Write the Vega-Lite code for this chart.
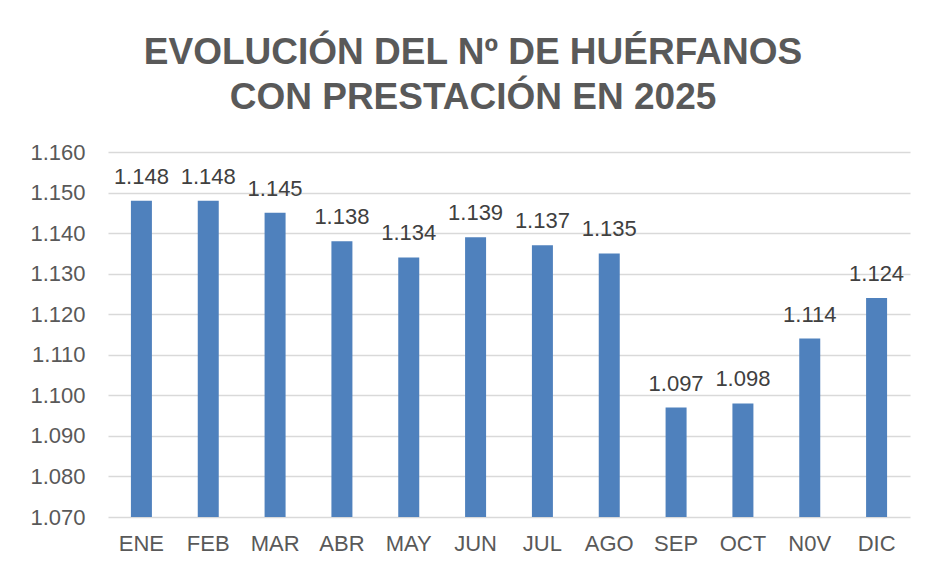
{
  "$schema": "https://vega.github.io/schema/vega-lite/v6.json",
  "autosize": "none",
  "width": 802,
  "height": 365,
  "padding": {"left": 108, "top": 152, "right": 17, "bottom": 49},
  "background": "white",
  "config": {
    "locale": {"number": {"decimal": ",", "thousands": ".", "grouping": [3], "currency": ["", " €"]}},
    "font": "Liberation Sans",
    "view": {"stroke": null}
  },
  "title": {
    "text": ["EVOLUCIÓN DEL Nº DE HUÉRFANOS", "CON PRESTACIÓN EN 2025"],
    "font": "Liberation Sans",
    "fontSize": 37,
    "fontWeight": "bold",
    "color": "#595959",
    "anchor": "middle",
    "lineHeight": 45,
    "offset": 24,
    "dx": -36
  },
  "data": {
    "values": [
      {"mes": "ENE", "valor": 1148},
      {"mes": "FEB", "valor": 1148},
      {"mes": "MAR", "valor": 1145},
      {"mes": "ABR", "valor": 1138},
      {"mes": "MAY", "valor": 1134},
      {"mes": "JUN", "valor": 1139},
      {"mes": "JUL", "valor": 1137},
      {"mes": "AGO", "valor": 1135},
      {"mes": "SEP", "valor": 1097},
      {"mes": "OCT", "valor": 1098},
      {"mes": "N0V", "valor": 1114},
      {"mes": "DIC", "valor": 1124}
    ]
  },
  "encoding": {
    "x": {
      "field": "mes",
      "type": "nominal",
      "sort": null,
      "scale": {"paddingInner": 0, "paddingOuter": 0},
      "axis": {
        "title": null,
        "labelAngle": 0,
        "labelFont": "Liberation Sans",
        "labelFontSize": 22,
        "labelColor": "#595959",
        "labelPadding": 16,
        "ticks": false,
        "domain": false
      }
    },
    "y": {
      "field": "valor",
      "type": "quantitative",
      "scale": {"domain": [1070, 1160], "zero": false, "nice": false},
      "axis": {
        "title": null,
        "values": [1070, 1080, 1090, 1100, 1110, 1120, 1130, 1140, 1150, 1160],
        "format": ",d",
        "labelFont": "Liberation Sans",
        "labelFontSize": 22,
        "labelColor": "#595959",
        "labelPadding": 23,
        "ticks": false,
        "domain": false,
        "gridColor": "#d9d9d9",
        "gridWidth": 1.5
      }
    }
  },
  "layer": [
    {
      "mark": {"type": "bar", "size": 21, "color": "#4F81BD", "clip": true}
    },
    {
      "mark": {"type": "text", "baseline": "bottom", "dy": -12, "fontSize": 22, "color": "#404040", "font": "Liberation Sans"},
      "encoding": {
        "text": {"field": "valor", "type": "quantitative", "format": ",d"}
      }
    }
  ]
}
